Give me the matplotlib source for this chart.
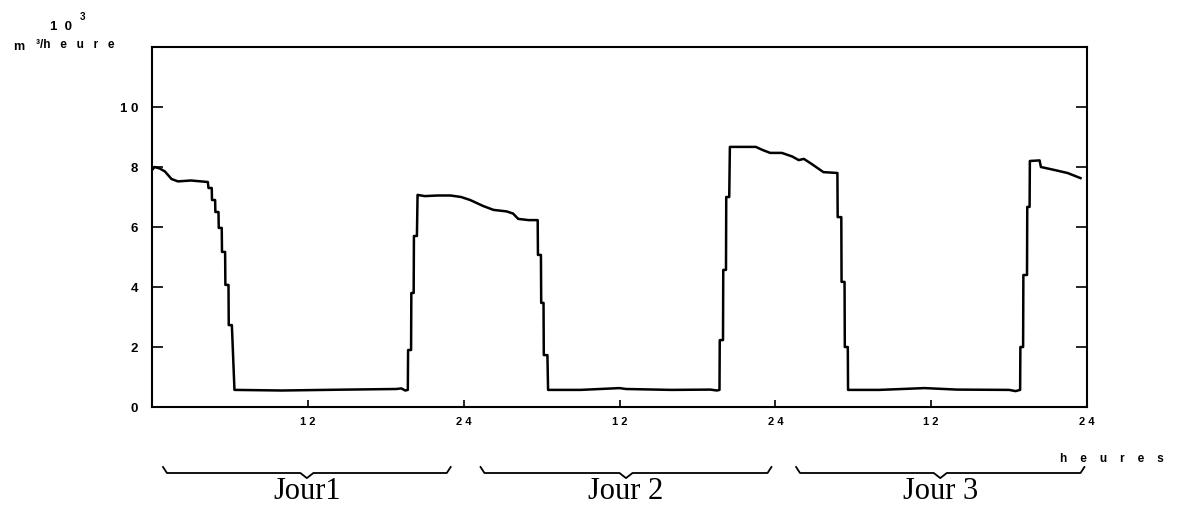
import matplotlib.pyplot as plt

# debit (10^3 m3/heure) sur trois jours, heures depuis le debut du jour 1
hours = [0, 0.2, 0.6, 1.0, 1.5, 2.0, 3.0, 4.3,
         4.35, 4.6, 4.62, 4.86, 4.88, 5.12, 5.14, 5.37, 5.39, 5.63, 5.65, 5.89, 5.91, 6.15, 6.35,
         10, 15, 18.8, 19.2, 19.5, 19.7,
         19.72, 19.95, 19.97, 20.15, 20.17, 20.4, 20.45,
         21, 22, 23, 23.8, 24.5, 25.5, 26.3, 27.3, 27.8, 28.2, 29.0, 29.7,
         29.72, 29.95, 29.97, 30.15, 30.17, 30.45, 30.5,
         33, 36, 36.5, 40, 43.0, 43.5, 43.7,
         43.72, 43.97, 43.99, 44.2, 44.22, 44.45, 44.5,
         46.5, 47.0, 47.6, 48.5, 49.3, 49.8, 50.2, 50.8, 51.7, 52.78,
         52.8, 53.08, 53.1, 53.33, 53.35, 53.58, 53.6,
         56, 59.5, 62, 66, 66.5, 66.85,
         66.87, 67.08, 67.1, 67.38, 67.4, 67.58, 67.6,
         68.35, 68.45, 69.5, 70.5, 71.5]
flow = [7.9, 8.0, 7.95, 7.85, 7.6, 7.52, 7.55, 7.5,
        7.3, 7.3, 6.9, 6.9, 6.5, 6.5, 5.97, 5.97, 5.17, 5.17, 4.07, 4.07, 2.73, 2.73, 0.57,
        0.55, 0.58, 0.6, 0.62, 0.55, 0.57,
        1.9, 1.9, 3.8, 3.8, 5.7, 5.7, 7.07,
        7.03, 7.05, 7.05, 7.0, 6.9, 6.7, 6.57, 6.52, 6.45, 6.27, 6.23, 6.23,
        5.07, 5.07, 3.47, 3.47, 1.73, 1.73, 0.57,
        0.57, 0.63, 0.6, 0.57, 0.58, 0.55, 0.57,
        2.23, 2.23, 4.57, 4.57, 7.0, 7.0, 8.67,
        8.67, 8.57, 8.47, 8.47, 8.35, 8.23, 8.27, 8.1, 7.83, 7.8,
        6.33, 6.33, 4.17, 4.17, 2.0, 2.0, 0.57,
        0.57, 0.63, 0.58, 0.57, 0.53, 0.57,
        2.0, 2.0, 4.4, 4.4, 6.67, 6.67, 8.2,
        8.22, 8.0, 7.9, 7.8, 7.63]

xticks = [12, 24, 36, 48, 60, 72]
xticklabels = ["1 2", "2 4", "1 2", "2 4", "1 2", "2 4"]
yticks = [0, 2, 4, 6, 8, 10]
yticklabels = ["0", "2", "4", "6", "8", "1 0"]
days = ["Jour1", "Jour 2", "Jour 3"]
day_spans = [(0.85, 23.0), (25.3, 47.7), (49.6, 71.8)]

sans = 'Liberation Sans'

fig = plt.figure(figsize=(11.8, 5.09), dpi=100)
ax = fig.add_axes([152/1180, 1-407/509, 935/1180, 360/509])

ax.plot(hours, flow, color='black', lw=1.8)
ax.set_xlim(0, 72)
ax.set_ylim(0, 12)

for s in ax.spines.values():
    s.set_linewidth(1.5)

ax.set_xticks(xticks)
ax.set_xticklabels(xticklabels, fontsize=8, fontweight='bold', family=sans)
ax.set_yticks(yticks)
ax.set_yticklabels(yticklabels, fontsize=9.5, fontweight='bold', family=sans)
ax.tick_params(axis='x', direction='in', length=5, width=1.2, pad=7)
ax.tick_params(axis='y', direction='in', length=8, width=1.2, pad=10,
               right=True)

# accolades sous l'axe pour chaque jour
for (a, b), name in zip(day_spans, days):
    m = (a + b) / 2
    xs = [a, a + 0.3, m - 0.5, m, m + 0.5, b - 0.3, b]
    ys = [-2.0, -2.2, -2.2, -2.37, -2.2, -2.2, -2.0]
    ax.plot(xs, ys, color='black', lw=1.3, clip_on=False)
    ax.text(m, -2.83, name, ha='center', va='center', fontsize=22,
            family='Liberation Serif')

fig.text(50/1180, 1-27/509, "1  0", fontsize=9.5, fontweight='bold',
         family=sans, va='center')
fig.text(80/1180, 1-17/509, "3", fontsize=7, fontweight='bold',
         family=sans, va='center')
fig.text(13/1180, 1-47/509, "m", fontsize=9, fontweight='bold',
         family=sans, va='center')
fig.text(36/1180, 1-45/509, "³/h   e   u   r   e", fontsize=8.5,
         fontweight='bold', family=sans, va='center')
fig.text(1060/1180, 1-459/509, "h    e    u    r    e    s", fontsize=8.5,
         fontweight='bold', family=sans, va='center')

fig.savefig("out.png", dpi=100)
